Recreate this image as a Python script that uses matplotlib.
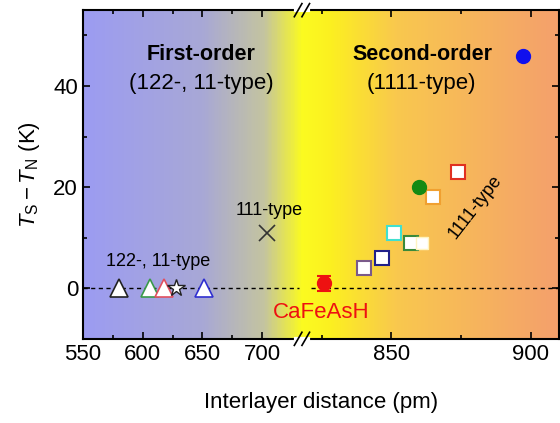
import numpy as np
import matplotlib
matplotlib.use("Agg")
import matplotlib.pyplot as plt
from matplotlib.colors import LinearSegmentedColormap

plt.rcParams['font.family'] = ['Liberation Sans', 'DejaVu Sans']
plt.rcParams['mathtext.fontset'] = 'custom'
plt.rcParams['mathtext.rm'] = 'Liberation Sans'
plt.rcParams['mathtext.it'] = 'Liberation Sans:italic'

# data (interlayer distance in pm, Ts - Tn in K)
tri_x = [580, 606, 618, 651]
tri_y = [0, 0, 0, 0]
tri_colors = ['#222222', '#3a9a4a', '#e05060', '#3030d0']
star_x, star_y = 628, 0
cross_x, cross_y = 704, 11
cafeash_x, cafeash_y, cafeash_err = 826, 1, 1.5
sq_x = [840, 846.5, 851, 857, 865, 874]
sq_y = [4, 6, 11, 9, 18, 23]
sq_colors = ['#7a5a8a', '#20208a', '#40e0d0', '#3a8a3a', '#f0a030', '#e03020']
small_sq_x, small_sq_y = 861, 9
green_x, green_y = 860, 20
blue_x, blue_y = 897, 46

# broken x axis: left part 550-733, right part 818-910
b1, b2 = 733.0, 818.0
k1, k2 = 1.2, 2.8


def fwd(x):
    x = np.asarray(x, dtype=float)
    return np.where(x <= b1, (x - 550) * k1,
                    np.where(x >= b2, (b1 - 550) * k1 + 0.4 + (x - b2) * k2,
                             (b1 - 550) * k1 + (x - b1) * 0.4 / (b2 - b1)))


def inv(u):
    u = np.asarray(u, dtype=float)
    u1 = (b1 - 550) * k1
    return np.where(u <= u1, 550 + u / k1,
                    np.where(u >= u1 + 0.4, b2 + (u - u1 - 0.4) / k2,
                             b1 + (u - u1) / 0.4 * (b2 - b1)))


fig = plt.figure(figsize=(5.6, 4.23), dpi=100)
ax = fig.add_axes([0.148, 0.199, 0.85, 0.777])
ax.set_xscale('function', functions=(fwd, inv))
ax.set_xlim(550, 910)
ax.set_ylim(-10, 55)

# background gradient
cmap = LinearSegmentedColormap.from_list('bg', [
    (0.0, '#9c9cf2'), (0.25, '#a8a8d6'), (0.38, '#c4c4a0'),
    (0.46, '#fbfb20'), (0.52, '#fcf020'), (0.66, '#f9c84e'),
    (1.0, '#f4a06c')])
grad = np.linspace(0, 1, 400).reshape(1, -1)
ax.imshow(grad, cmap=cmap, aspect='auto', extent=[0, 1, 0, 1],
          transform=ax.transAxes, zorder=0)

ax.plot([550, 731], [0, 0], 'k--', lw=1, dashes=(3, 2.5), zorder=1)
ax.plot([821, 910], [0, 0], 'k--', lw=1, dashes=(3, 2.5), zorder=1)

for x, y, c in zip(tri_x, tri_y, tri_colors):
    ax.plot(x, y, '^', ms=13, mfc='white', mec=c, mew=1.2, zorder=3)
ax.plot(star_x, star_y, '*', ms=13, mfc='white', mec='#222222', mew=1, zorder=4)
ax.plot(cross_x, cross_y, 'x', ms=11, color='#333333', mew=1.2, zorder=3)
ax.errorbar(cafeash_x, cafeash_y, yerr=cafeash_err, fmt='o', ms=10,
            color='#ee1111', capsize=5, elinewidth=1.5, capthick=1.5, zorder=3)
for x, y, c in zip(sq_x, sq_y, sq_colors):
    ax.plot(x, y, 's', ms=10, mfc='white', mec=c, mew=1.5, zorder=3)
ax.plot(small_sq_x, small_sq_y, 's', ms=8, mfc='white', mec='#fff4c0', mew=1, zorder=3)
ax.plot(green_x, green_y, 'o', ms=10, color='#138a13', zorder=3)
ax.plot(blue_x, blue_y, 'o', ms=10, color='#1010ee', zorder=3)

# text
ax.text(649, 46.3, 'First-order', ha='center', va='center', fontsize=15.5, fontweight='bold')
ax.text(649, 40.4, '(122-, 11-type)', ha='center', va='center', fontsize=16)
ax.text(861, 46.3, 'Second-order', ha='center', va='center', fontsize=15.5, fontweight='bold')
ax.text(860.6, 40.4, '(1111-type)', ha='center', va='center', fontsize=16)
ax.text(706, 15.4, '111-type', ha='center', va='center', fontsize=13)
ax.text(613, 5.3, '122-, 11-type', ha='center', va='center', fontsize=13)
ax.text(825, -4.7, 'CaFeAsH', ha='center', va='center', fontsize=16, color='#ee1111')
ax.text(880, 16, '1111-type', ha='center', va='center', fontsize=13, rotation=52)

ax.set_xticks([550, 600, 650, 700, 850, 900])
ax.set_xticks([575, 625, 675, 825, 875], minor=True)
ax.set_yticks([0, 20, 40])
ax.set_yticks([-10, 10, 30, 50], minor=True)
ax.tick_params(which='both', direction='in', top=True, right=True, labelsize=16, width=1.2)
ax.tick_params(which='major', length=5)
ax.tick_params(which='minor', length=3)
for s in ax.spines.values():
    s.set_linewidth(1.5)

ax.set_xlabel('Interlayer distance (pm)', fontsize=16, labelpad=20)
ax.set_ylabel(r'$T_\mathrm{S} - T_\mathrm{N}$ (K)', fontsize=16, labelpad=8)

# break marks
xb = float(fwd(b1) + 0.2) / float(fwd(910))
for yb in (0, 1):
    ax.plot([xb - 0.012, xb + 0.012], [yb, yb], color='white', lw=3,
            transform=ax.transAxes, clip_on=False, zorder=5)
    for dx in (-0.008, 0.008):
        ax.plot([xb + dx - 0.008, xb + dx + 0.008], [yb - 0.02, yb + 0.02],
                color='black', lw=1.2, transform=ax.transAxes, clip_on=False, zorder=6)

fig.savefig('out.png', dpi=100)
